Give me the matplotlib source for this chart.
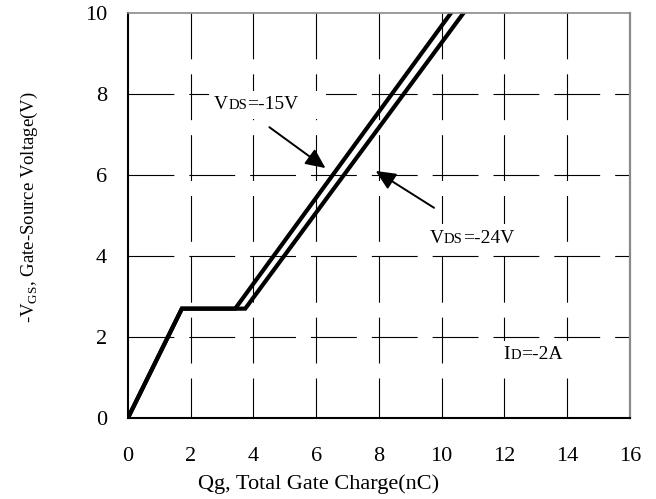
import matplotlib
matplotlib.use("Agg")
import matplotlib.pyplot as plt
from matplotlib.offsetbox import TextArea, HPacker, DrawingArea, AnnotationBbox

plt.rcParams["font.family"] = ["Liberation Serif", "DejaVu Serif"]
plt.rcParams["mathtext.fontset"] = "custom"
plt.rcParams["mathtext.rm"] = "Liberation Serif"

# gate charge curves (Qg in nC, -VGS in V)
qg_15v = [0.0, 1.72, 3.42, 10.3]
vgs_15v = [0.0, 2.7, 2.7, 10.0]
qg_24v = [0.0, 1.72, 3.74, 10.7]
vgs_24v = [0.0, 2.7, 2.7, 10.0]

x_ticks = [0, 2, 4, 6, 8, 10, 12, 14, 16]
y_ticks = [0, 2, 4, 6, 8, 10]

FS = 16
FS_NOTE = 14
FS_SUB = 10.5


def _sub_label(ax, xy, main, sub, rest, extra_right=0):
    # "V" + small "DS" on the same baseline + "=-15V", in a white box
    parts = [TextArea(main, textprops=dict(fontsize=FS_NOTE)),
             TextArea(sub, textprops=dict(fontsize=FS_SUB)),
             TextArea(rest, textprops=dict(fontsize=FS_NOTE))]
    if extra_right:
        parts.append(DrawingArea(extra_right, 1))
    box = HPacker(children=parts, align="baseline", pad=0, sep=0)
    ab = AnnotationBbox(box, xy, xycoords="data", box_alignment=(0, 0.5),
                        frameon=True, pad=0.4, zorder=2,
                        bboxprops=dict(facecolor="white", edgecolor="none"))
    ax.add_artist(ab)


fig = plt.figure(figsize=(6.56, 4.99), dpi=100)
ax = fig.add_axes([0.195, 0.1623, 0.765, 0.8117])

ax.set_xlim(x_ticks[0], x_ticks[-1])
ax.set_ylim(y_ticks[0], y_ticks[-1])

# long-dash grid: horizontals start at the left axis, verticals at the top
lw_grid = 0.8
dash = (0, (33 / lw_grid, 10.8 / lw_grid))
for yv in y_ticks[1:-1]:
    ax.plot([x_ticks[0], x_ticks[-1]], [yv, yv], color="black", lw=lw_grid,
            linestyle=dash, zorder=1)
for xv in x_ticks[1:-1]:
    ax.plot([xv, xv], [y_ticks[-1], y_ticks[0]], color="black", lw=lw_grid,
            linestyle=dash, zorder=1)

ax.plot(qg_15v, vgs_15v, color="black", lw=3.0, solid_joinstyle="miter", zorder=3)
ax.plot(qg_24v, vgs_24v, color="black", lw=3.0, solid_joinstyle="miter", zorder=3)

ax.set_xticks(x_ticks)
ax.set_yticks(y_ticks)
ax.tick_params(length=0, labelsize=FS)
ax.tick_params(axis="x", pad=21)
ax.tick_params(axis="y", pad=15)

for side in ("left", "bottom"):
    ax.spines[side].set_linewidth(1.5)
    ax.spines[side].set_color("black")
ax.spines["top"].set_color("#8a8a8a")
ax.spines["top"].set_linewidth(1.2)
ax.spines["right"].set_color("#8a8a8a")
ax.spines["right"].set_linewidth(1.6)
for sp in ax.spines.values():
    sp.set_zorder(4)

ax.set_xlabel("Qg, Total Gate Charge(nC)", fontsize=FS)
ax.xaxis.set_label_coords(0.38, -0.14)
ax.set_ylabel(r"-V$_{\mathrm{GS}}$, Gate-Source Voltage(V)", fontsize=13.5)
ax.yaxis.set_label_coords(-0.175, 0.52)

arrow = dict(arrowstyle="-|>,head_length=1.2,head_width=0.55", color="black",
             lw=1.4, shrinkA=0, shrinkB=0, mutation_scale=10)
ax.annotate("", xy=(6.3, 6.17), xytext=(4.51, 7.18), arrowprops=arrow, zorder=5)
ax.annotate("", xy=(7.9, 6.1), xytext=(9.76, 5.19), arrowprops=arrow, zorder=5)

_sub_label(ax, (2.75, 7.73), "V", "DS", "=-15V", extra_right=16)
_sub_label(ax, (9.62, 4.44), "V", "DS", "=-24V")
_sub_label(ax, (11.98, 1.56), "I", "D", "=-2A", extra_right=6)

fig.savefig("out.png", dpi=100)
